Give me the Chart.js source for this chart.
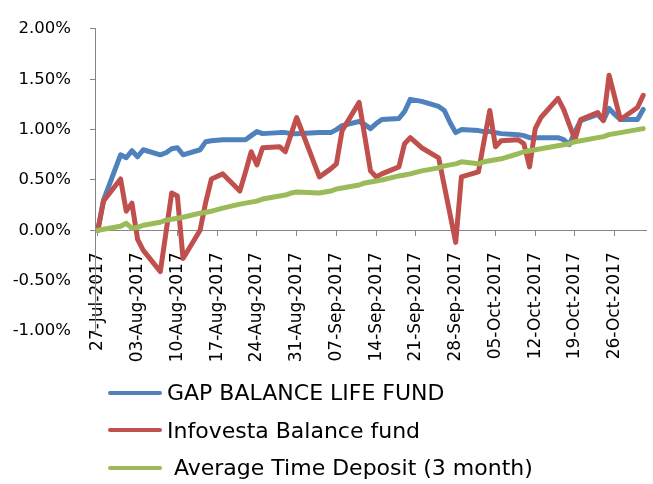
<!DOCTYPE html>
<html>
<head>
<meta charset="utf-8">
<script src="https://cdn.jsdelivr.net/npm/chart.js@4.4.1/dist/chart.umd.min.js"></script>
<style>
  html, body { margin: 0; padding: 0; background: #fff; }
  #wrap { position: relative; width: 653px; height: 484px; }
  #legend { position: absolute; left: 108px; top: 374px; font-family: "DejaVu Sans", sans-serif; font-size: 22px; color: #000; }
  #legend .item { display: flex; align-items: center; height: 37.5px; white-space: pre; }
  #legend .swatch { width: 54px; height: 4px; border-radius: 2px; margin-right: 5px; }
</style>
</head>
<body>
<div id="wrap">
  <canvas id="chart" width="653" height="484"></canvas>
  <div id="legend"></div>
</div>
<script>
// ========== Data ==========
const dates = [
  "2017-07-27", "2017-07-28", "2017-07-31", "2017-08-01", "2017-08-02", "2017-08-03", "2017-08-04",
  "2017-08-07", "2017-08-08", "2017-08-09", "2017-08-10", "2017-08-11",
  "2017-08-14", "2017-08-15", "2017-08-16", "2017-08-18",
  "2017-08-21", "2017-08-22", "2017-08-23", "2017-08-24", "2017-08-25",
  "2017-08-28", "2017-08-29", "2017-08-30", "2017-08-31",
  "2017-09-04", "2017-09-05", "2017-09-06", "2017-09-07", "2017-09-08",
  "2017-09-11", "2017-09-12", "2017-09-13", "2017-09-14", "2017-09-15",
  "2017-09-18", "2017-09-19", "2017-09-20", "2017-09-22",
  "2017-09-25", "2017-09-26", "2017-09-27", "2017-09-28", "2017-09-29",
  "2017-10-02", "2017-10-03", "2017-10-04", "2017-10-05", "2017-10-06",
  "2017-10-09", "2017-10-10", "2017-10-11", "2017-10-12", "2017-10-13",
  "2017-10-16", "2017-10-17", "2017-10-18", "2017-10-19", "2017-10-20",
  "2017-10-23", "2017-10-24", "2017-10-25", "2017-10-26", "2017-10-27",
  "2017-10-30", "2017-10-31",
];

// returns in %
const gapBalance = [
  0.00, 0.30, 0.75, 0.72, 0.79, 0.73, 0.80,
  0.75, 0.77, 0.81, 0.82, 0.75,
  0.80, 0.88, 0.89, 0.90,
  0.90, 0.90, 0.94, 0.98, 0.96,
  0.97, 0.97, 0.96, 0.96,
  0.97, 0.97, 0.97, 1.00, 1.04,
  1.08, 1.05, 1.01, 1.06, 1.10,
  1.11, 1.18, 1.30, 1.28,
  1.23, 1.19, 1.07, 0.97, 1.00,
  0.99, 0.98, 0.98, 0.97, 0.96,
  0.95, 0.94, 0.92, 0.92, 0.92,
  0.92, 0.90, 0.85, 0.98, 1.09,
  1.15, 1.09, 1.21, 1.15, 1.10,
  1.10, 1.20,
];

const infovesta = [
  0.00, 0.29, 0.51, 0.19, 0.27, -0.09, -0.20,
  -0.41, -0.02, 0.37, 0.34, -0.28,
  0.00, 0.28, 0.51, 0.56,
  0.39, 0.58, 0.78, 0.65, 0.82,
  0.83, 0.78, 0.95, 1.12,
  0.53, 0.57, 0.61, 0.66, 0.99,
  1.27, 0.93, 0.59, 0.53, 0.56,
  0.63, 0.86, 0.92, 0.82,
  0.72, 0.44, 0.16, -0.12, 0.53,
  0.58, 0.89, 1.19, 0.83, 0.89,
  0.90, 0.86, 0.63, 1.01, 1.12,
  1.31, 1.20, 1.05, 0.90, 1.10,
  1.17, 1.09, 1.54, 1.32, 1.10,
  1.22, 1.34,
];

const timeDeposit = [
  0.00, 0.01, 0.04, 0.07, 0.02, 0.03, 0.05,
  0.08, 0.10, 0.11, 0.12, 0.13,
  0.17, 0.18, 0.19, 0.22,
  0.26, 0.27, 0.28, 0.29, 0.31,
  0.34, 0.35, 0.37, 0.38,
  0.37, 0.38, 0.39, 0.41, 0.42,
  0.45, 0.47, 0.48, 0.49, 0.50,
  0.54, 0.55, 0.56, 0.59,
  0.62, 0.64, 0.65, 0.66, 0.68,
  0.66, 0.68, 0.69, 0.70, 0.71,
  0.76, 0.78, 0.79, 0.80, 0.81,
  0.84, 0.85, 0.86, 0.88, 0.89,
  0.92, 0.93, 0.95, 0.96, 0.97,
  1.00, 1.01,
];

const xTickLabels = [
  "27-Jul-2017", "03-Aug-2017", "10-Aug-2017", "17-Aug-2017", "24-Aug-2017",
  "31-Aug-2017", "07-Sep-2017", "14-Sep-2017", "21-Sep-2017", "28-Sep-2017",
  "05-Oct-2017", "12-Oct-2017", "19-Oct-2017", "26-Oct-2017",
];

const seriesNames = ["GAP BALANCE LIFE FUND", "Infovesta Balance fund", " Average Time Deposit (3 month)"];
const seriesColors = ["#4F81BD", "#C0504D", "#9BBB59"];

// ========== Helpers ==========
const MONTHS = { Jan: 0, Feb: 1, Mar: 2, Apr: 3, May: 4, Jun: 5, Jul: 6, Aug: 7, Sep: 8, Oct: 9, Nov: 10, Dec: 11 };
const startMs = Date.parse(dates[0] + "T00:00:00Z");
const dayOf = (iso) => (Date.parse(iso + "T00:00:00Z") - startMs) / 864e5;
const dayOfLabel = (lbl) => {
  const [d, m, y] = lbl.split("-");
  return (Date.UTC(+y, MONTHS[m], +d) - startMs) / 864e5;
};
const lastDay = dayOf(dates[dates.length - 1]);
const tickDays = xTickLabels.map(dayOfLabel);

const toPoints = (vals) => vals.map((v, i) => ({ x: dayOf(dates[i]), y: v }));

const axisGray = "#868686";
Chart.defaults.font.family = "'DejaVu Sans', sans-serif";
Chart.defaults.color = "#000";

// ========== Chart ==========
const chart = new Chart(document.getElementById("chart"), {
  type: "line",
  data: {
    datasets: [gapBalance, infovesta, timeDeposit].map((vals, i) => ({
      label: seriesNames[i],
      data: toPoints(vals),
      borderColor: seriesColors[i],
      backgroundColor: seriesColors[i],
      borderWidth: 5,
      pointRadius: 0,
      tension: 0,
      borderJoinStyle: "round",
      borderCapStyle: "round",
      order: 3 - i,
      clip: false,
    })),
  },
  options: {
    responsive: false,
    animation: false,
    layout: { padding: { left: 0, top: 16, right: 7, bottom: 153 } },
    plugins: {
      legend: { display: false },
      tooltip: { enabled: false },
    },
    scales: {
      x: {
        type: "linear",
        min: -0.5,
        max: lastDay + 0.5,
        position: { y: 0 },
        afterBuildTicks: (scale) => {
          scale.ticks = tickDays.map((v) => ({ value: v }));
        },
        ticks: {
          autoSkip: false,
          minRotation: 90,
          maxRotation: 90,
          padding: 17,
          font: { size: 17 },
          callback: (v) => xTickLabels[tickDays.indexOf(v)] || "",
        },
        grid: { drawOnChartArea: false, drawTicks: true, tickLength: 5, color: axisGray },
        border: { color: axisGray, width: 1 },
      },
      y: {
        min: -1,
        max: 2,
        afterFit: (scale) => { scale.width = 95; },
        ticks: {
          stepSize: 0.5,
          padding: 19,
          font: { size: 16.5 },
          callback: (v) => v.toFixed(2) + "%",
        },
        grid: { drawOnChartArea: false, drawTicks: true, tickLength: 5, color: axisGray },
        border: { color: axisGray, width: 1 },
      },
    },
  },
});

// ========== Legend ==========
const legendEl = document.getElementById("legend");
chart.data.datasets.forEach((ds) => {
  const row = document.createElement("div");
  row.className = "item";
  row.innerHTML = `<span class="swatch" style="background:${ds.borderColor}"></span><span>${ds.label}</span>`;
  legendEl.appendChild(row);
});
</script>
</body>
</html>
